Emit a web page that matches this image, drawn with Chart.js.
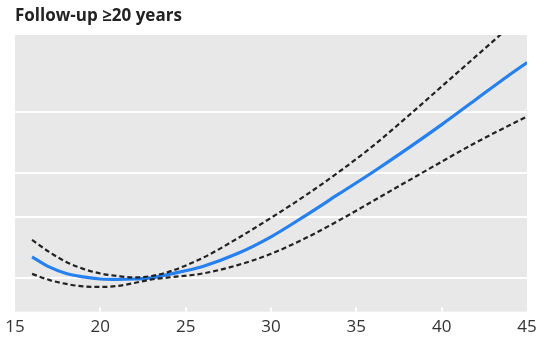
<!DOCTYPE html>
<html>
<head>
<meta charset="UTF-8">
<title>Follow-up ≥20 years</title>
<script src="https://cdn.jsdelivr.net/npm/chart.js"></script>
<style>
  html, body { margin: 0; padding: 0; background: #fff; }
  #wrap { width: 544px; height: 342px; }
</style>
</head>
<body>
<div id="wrap"><canvas id="chart" width="544" height="342"></canvas></div>
<script>
  // values (hazard ratio on a log axis)
  var ages = [16, 17, 18, 19, 20, 21, 22, 23, 24, 26, 28, 30, 32, 34, 36, 38, 40, 42, 44, 45];
  var estimate = [1.150, 1.076, 1.030, 1.007, 0.993, 0.990, 0.993, 1.0, 1.024, 1.079, 1.173,
                  1.313, 1.509, 1.747, 2.021, 2.355, 2.762, 3.261, 3.849, 4.169];
  var upper = [1.287, 1.188, 1.112, 1.062, 1.030, 1.013, 1.003, 1.013, 1.041, 1.142, 1.296,
               1.489, 1.724, 2.021, 2.403, 2.913, 3.555, 4.338, 5.295, 5.850];
  var lower = [1.027, 0.987, 0.961, 0.945, 0.942, 0.948, 0.967, 0.990, 1.003, 1.030, 1.087,
               1.173, 1.300, 1.465, 1.667, 1.898, 2.160, 2.451, 2.753, 2.913];
  var xTicks = [15, 20, 25, 30, 35, 40, 45];
  var yGrid = [1, 1.5, 2, 3];

  function pts(vals) {
    return ages.map(function(a, i) { return { x: a, y: vals[i] }; });
  }

  // grey panel behind the plot + small white tick stubs
  var panel = {
    id: 'panel',
    beforeDraw: function(chart) {
      var a = chart.chartArea, ctx = chart.ctx;
      ctx.save();
      ctx.fillStyle = '#e8e8e8';
      ctx.fillRect(a.left, a.top, a.right - a.left, a.bottom - a.top);
      ctx.restore();
    },
    beforeDatasetsDraw: function(chart) {
      var a = chart.chartArea, ctx = chart.ctx, xs = chart.scales.x;
      ctx.save();
      ctx.strokeStyle = '#ffffff';
      ctx.lineWidth = 2;
      xTicks.slice(1, -1).forEach(function(t) {
        var px = Math.round(xs.getPixelForValue(t));
        ctx.beginPath();
        ctx.moveTo(px, a.bottom);
        ctx.lineTo(px, a.bottom - 4);
        ctx.stroke();
      });
      ctx.restore();
    }
  };

  new Chart(document.getElementById('chart'), {
    type: 'line',
    data: {
      datasets: [
        { label: 'upper', data: pts(upper), borderColor: '#222222', borderWidth: 2.2,
          borderDash: [5, 3], pointRadius: 0, cubicInterpolationMode: 'monotone', fill: false },
        { label: 'lower', data: pts(lower), borderColor: '#222222', borderWidth: 2.2,
          borderDash: [5, 3], pointRadius: 0, cubicInterpolationMode: 'monotone', fill: false },
        { label: 'estimate', data: pts(estimate), borderColor: '#2680ee', borderWidth: 3.2,
          pointRadius: 0, cubicInterpolationMode: 'monotone', fill: false }
      ]
    },
    options: {
      responsive: false,
      animation: false,
      layout: { padding: { left: 15, right: 17, top: 0, bottom: 0 } },
      plugins: {
        legend: { display: false },
        tooltip: { enabled: false },
        title: {
          display: true,
          text: 'Follow-up ≥20 years',
          align: 'start',
          color: '#222222',
          font: { family: 'Open Sans', size: 17, weight: 'bold' },
          padding: { top: 6, bottom: 8.6 }
        }
      },
      scales: {
        x: {
          type: 'linear',
          min: 15,
          max: 45,
          afterBuildTicks: function(s) { s.ticks = xTicks.map(function(v) { return { value: v }; }); },
          grid: { display: false, drawTicks: false },
          border: { display: false },
          ticks: {
            color: '#333333',
            padding: 5,
            maxRotation: 0,
            font: { family: 'Open Sans', size: 17 }
          }
        },
        y: {
          type: 'logarithmic',
          min: 0.8,
          max: 5,
          afterBuildTicks: function(s) { s.ticks = yGrid.map(function(v) { return { value: v }; }); },
          grid: { color: '#ffffff', lineWidth: 2, drawTicks: false },
          border: { display: false },
          ticks: { display: false }
        }
      }
    },
    plugins: [panel]
  });
</script>
</body>
</html>
